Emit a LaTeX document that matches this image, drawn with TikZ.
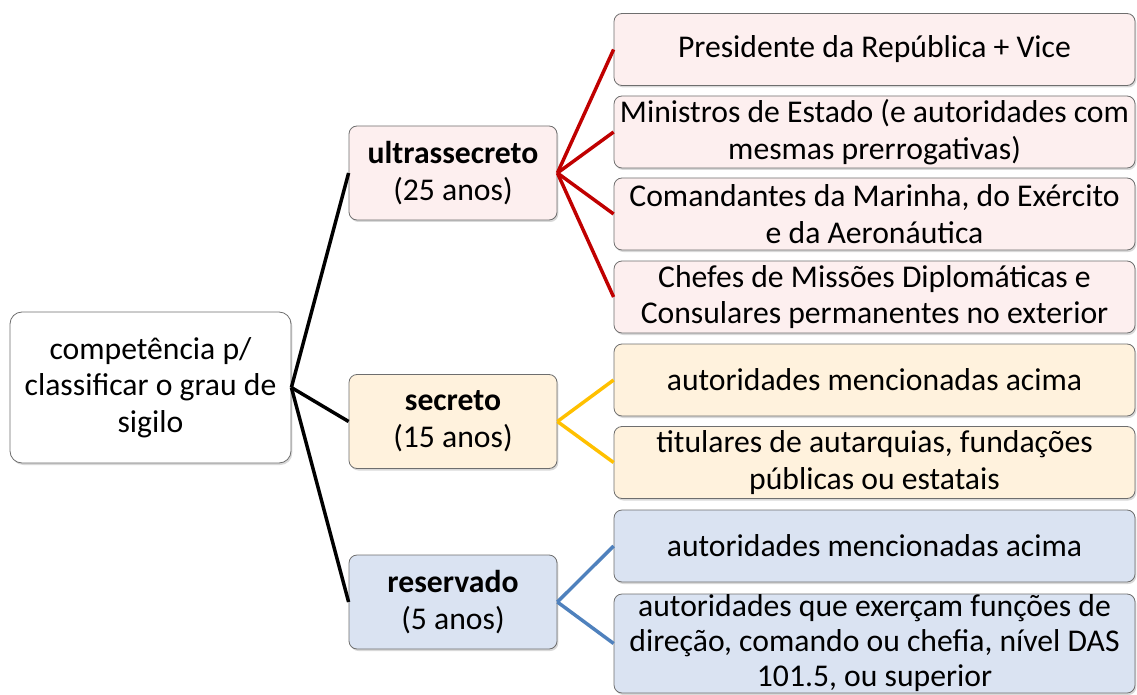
\documentclass[tikz,border=0pt]{standalone}
\usepackage{fontspec}
\setmainfont{Carlito}
\usepackage{tikz}
\usetikzlibrary{shadows}

\definecolor{boxgray}{RGB}{110,110,110}
\definecolor{ultfill}{RGB}{253,239,239}
\definecolor{secfill}{RGB}{255,242,221}
\definecolor{resfill}{RGB}{218,227,242}
\definecolor{ultline}{RGB}{192,0,0}
\definecolor{secline}{RGB}{255,192,0}
\definecolor{resline}{RGB}{79,129,189}

\begin{document}
\begin{tikzpicture}[x=0.75pt, y=-0.75pt,
  box/.style={draw=boxgray, line width=0.6pt, rounded corners=6pt, align=center, inner sep=0pt,
    font=\fontsize{23.75}{27.5}\selectfont,
    drop shadow={opacity=0.3, shadow xshift=1pt, shadow yshift=-1.5pt}},
  rootbox/.style={box, fill=white, rounded corners=9pt, minimum width=210.75pt, minimum height=113.25pt},
  midbox/.style={box, minimum width=156pt, minimum height=70.5pt},
  leafbox/.style={box, minimum width=390.75pt, minimum height=54pt},
  branch/.style={line width=2.6pt}]
\useasboundingbox (0,0) rectangle (1137,695);
\def \leafx {874.5}

\node[rootbox] at (150.5,387.5) (root) {competência p/\\classificar o grau de\\sigilo};

\node[midbox, fill=ultfill] at (453,173) (ult) {\textbf{ultrassecreto}\\(25 anos)};
\node[midbox, fill=secfill] at (453,421.5) (sec) {\textbf{secreto}\\(15 anos)};
\node[midbox, fill=resfill] at (453,602) (res) {\textbf{reservado}\\(5 anos)};

\node[leafbox, fill=ultfill] at (\leafx,49.5) (ult1) {Presidente da República + Vice};
\node[leafbox, fill=ultfill] at (\leafx,132) (ult2) {Ministros de Estado (e autoridades com\\mesmas prerrogativas)};
\node[leafbox, fill=ultfill] at (\leafx,214) (ult3) {Comandantes da Marinha, do Exército\\e da Aeronáutica};
\node[leafbox, fill=ultfill] at (\leafx,297) (ult4) {Chefes de Missões Diplomáticas e\\Consulares permanentes no exterior};

\node[leafbox, fill=secfill] at (\leafx,380) (sec1) {autoridades mencionadas acima};
\node[leafbox, fill=secfill] at (\leafx,462.5) (sec2) {titulares de autarquias, fundações\\públicas ou estatais};

\node[leafbox, fill=resfill] at (\leafx,546) (res1) {autoridades mencionadas acima};
\node[leafbox, fill=resfill, minimum height=74.25pt, font=\fontsize{23.75}{26.25}\selectfont] at (\leafx,643.5) (res2) {autoridades que exerçam funções de\\direção, comando ou chefia, nível DAS\\101.5, ou superior};

% root to levels
\foreach \n in {ult,sec,res}
  \draw[branch, black] (root.east) -- (\n.west);

% levels to authorities
\foreach \n in {ult1,ult2,ult3,ult4}
  \draw[branch, ultline] (ult.east) -- (\n.west);
\foreach \n in {sec1,sec2}
  \draw[branch, secline] (sec.east) -- (\n.west);
\foreach \n in {res1,res2}
  \draw[branch, resline] (res.east) -- (\n.west);

\end{tikzpicture}
\end{document}
